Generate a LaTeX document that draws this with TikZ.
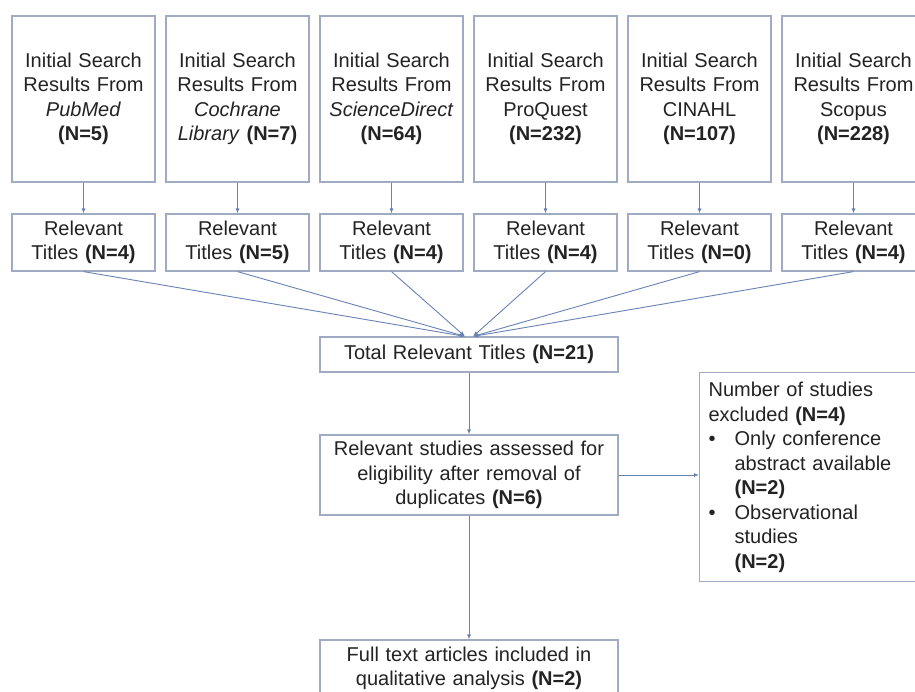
\documentclass[tikz,border=0pt]{standalone}
\usepackage{fontspec}
\setmainfont{Liberation Sans}
\usetikzlibrary{arrows.meta}
\definecolor{boxline}{RGB}{160,170,195}
\definecolor{arrowline}{RGB}{105,130,180}
\definecolor{txt}{RGB}{35,35,35}
\begin{document}
\begin{tikzpicture}[x=1pt,y=-1pt,
    box/.style={draw=boxline, line width=1.2pt, fill=white, text=txt, align=center,
        inner sep=0pt, font=\fontsize{20}{24.5}\selectfont},
    srcbox/.style={box, minimum width=143pt, minimum height=166pt, text width=140pt},
    relbox/.style={box, minimum width=143pt, minimum height=57pt, text width=140pt},
    midbox/.style={box, minimum width=298pt, text width=292pt},
    link/.style={draw=arrowline, line width=0.9pt, -{Latex[length=5pt,width=4pt]}}]
    \useasboundingbox[fill=white] (0,0) rectangle (915,691);
    % search results
    \node[srcbox] (pubmed) at (83.5,99) {Initial Search\\Results From\\\textit{PubMed}\\\textbf{(N=5)}};
    \node[srcbox] (cochrane) at (237.5,99) {Initial Search\\Results From\\\textit{Cochrane}\\\textit{Library} \textbf{(N=7)}};
    \node[srcbox] (scidirect) at (391.5,99) {Initial Search\\Results From\\\textit{ScienceDirect}\\\textbf{(N=64)}};
    \node[srcbox] (proquest) at (545.5,99) {Initial Search\\Results From\\ProQuest\\\textbf{(N=232)}};
    \node[srcbox] (cinahl) at (699.5,99) {Initial Search\\Results From\\CINAHL\\\textbf{(N=107)}};
    \node[srcbox] (scopus) at (853.5,99) {Initial Search\\Results From\\Scopus\\\textbf{(N=228)}};
    % relevant titles
    \node[relbox] (relA) at (83.5,242.5) {Relevant\\Titles \textbf{(N=4)}};
    \node[relbox] (relB) at (237.5,242.5) {Relevant\\Titles \textbf{(N=5)}};
    \node[relbox] (relC) at (391.5,242.5) {Relevant\\Titles \textbf{(N=4)}};
    \node[relbox] (relD) at (545.5,242.5) {Relevant\\Titles \textbf{(N=4)}};
    \node[relbox] (relE) at (699.5,242.5) {Relevant\\Titles \textbf{(N=0)}};
    \node[relbox] (relF) at (853.5,242.5) {Relevant\\Titles \textbf{(N=4)}};
    % main column
    \node[midbox, minimum height=35pt] (total) at (469,354.5) {Total Relevant Titles \textbf{(N=21)}};
    \node[midbox, minimum height=80pt] (assessed) at (469,475) {Relevant studies assessed for\\eligibility after removal of\\duplicates \textbf{(N=6)}};
    \node[midbox, minimum height=57pt] (fulltext) at (469,668.5) {Full text articles included in\\qualitative analysis \textbf{(N=2)}};
    \node[box, anchor=north west, align=left, minimum width=240pt, minimum height=209pt,
        text width=222pt, inner xsep=9pt] (excluded) at (699,372)
        {Number of studies\\excluded \textbf{(N=4)}\\
        \makebox[26pt][l]{\textbullet}Only conference\\
        \hspace*{26pt}abstract available\\
        \hspace*{26pt}\textbf{(N=2)}\\
        \makebox[26pt][l]{\textbullet}Observational\\
        \hspace*{26pt}studies\\
        \hspace*{26pt}\textbf{(N=2)}};
    % connectors
    \draw[link] (pubmed) -- (relA);
    \draw[link] (cochrane) -- (relB);
    \draw[link] (scidirect) -- (relC);
    \draw[link] (proquest) -- (relD);
    \draw[link] (cinahl) -- (relE);
    \draw[link] (scopus) -- (relF);
    \draw[link] (relA.south) -- ([xshift=-4pt]total.north);
    \draw[link] (relB.south) -- ([xshift=-4pt]total.north);
    \draw[link] (relC.south) -- ([xshift=-4pt]total.north);
    \draw[link] (relD.south) -- ([xshift=4pt]total.north);
    \draw[link] (relE.south) -- ([xshift=4pt]total.north);
    \draw[link] (relF.south) -- ([xshift=4pt]total.north);
    \draw[link] (total) -- (assessed);
    \draw[link] (assessed) -- (fulltext);
    \draw[link] (assessed.east) -- (assessed.east -| excluded.west);
\end{tikzpicture}
\end{document}
